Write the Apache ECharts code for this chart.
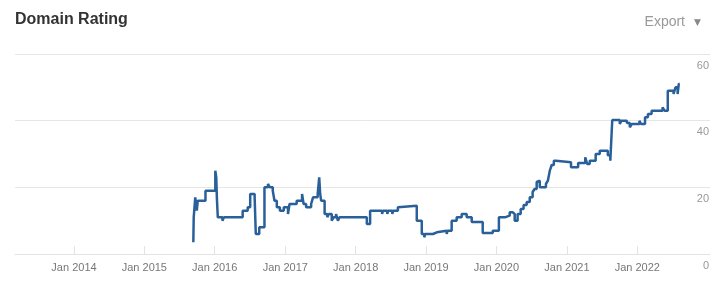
<!DOCTYPE html>
<html>
<head>
<meta charset="utf-8">
<script src="https://cdn.jsdelivr.net/npm/echarts@6/dist/echarts.min.js"></script>
<style>
html,body{margin:0;padding:0;background:#fff;}
#chart{width:726px;height:290px;}
</style>
</head>
<body>
<div id="chart"></div>
<script>
// Domain Rating history (step changes: date the value starts, value)
const dates = [
  '2015-09-12','2015-09-14','2015-09-22','2015-09-30','2015-10-05','2015-11-14',
  '2016-01-04','2016-01-09','2016-01-12','2016-01-17','2016-02-10','2016-02-18',
  '2016-05-25','2016-06-20','2016-07-03','2016-07-26','2016-08-01','2016-08-19',
  '2016-09-15','2016-10-03','2016-10-13','2016-10-28','2016-11-06','2016-11-18',
  '2016-12-04','2016-12-24','2017-01-15','2017-01-23','2017-03-01','2017-03-29',
  '2017-04-06','2017-04-19','2017-05-15','2017-05-25','2017-06-18','2017-06-26',
  '2017-07-01','2017-07-06','2017-07-24','2017-08-07','2017-08-15','2017-08-30',
  '2017-09-08','2017-09-21','2017-10-01','2017-10-09','2018-02-28','2018-03-17',
  '2018-05-18','2018-05-23','2018-06-14','2018-06-19','2018-07-10','2018-07-15',
  '2018-08-08','2018-08-18','2018-11-14','2018-12-10','2018-12-23','2018-12-28',
  '2019-02-06','2019-02-26','2019-04-18','2019-04-23','2019-05-14','2019-06-09',
  '2019-07-05','2019-07-31','2019-08-26','2019-10-22','2019-12-13','2020-01-14',
  '2020-02-14','2020-03-10','2020-03-25','2020-04-05','2020-04-20','2020-05-06',
  '2020-05-21','2020-06-06','2020-06-22','2020-07-07','2020-07-17','2020-07-28',
  '2020-08-03','2020-08-13','2020-09-14','2020-09-24','2020-10-04','2020-10-14',
  '2020-10-25','2020-11-05','2021-01-22','2021-02-28','2021-04-06','2021-04-16',
  '2021-04-29','2021-05-30','2021-06-20','2021-08-01','2021-08-14','2021-08-24',
  '2021-10-02','2021-10-10','2021-11-08','2021-11-23','2021-12-03','2022-01-12',
  '2022-01-20','2022-02-10','2022-02-25','2022-03-16','2022-05-12','2022-05-22',
  '2022-06-08','2022-07-08','2022-07-18','2022-07-29','2022-08-04','2022-08-09'
];
const values = [
  3.5,11,17,13,16,19,
  25,23,17,11,10,11,
  13,14,18,17,6,8,
  20,21,20,19,16,14,
  13,14,12,15,16,18,
  15,14,15,17,18,23,
  18,16,12,11,12,10,
  11,12,10,11,9,13,
  12,13,12,13,12,13,
  14,14.5,10,6,5,6,
  6.5,7,6,7,10,11,
  12,11,9.6,6.3,7,11,
  11.5,12.5,12,10,12,13.5,
  14.7,15.6,17,18.6,19.5,21.6,
  22,20,21,22,25,26.7,
  28,27.5,26,27.3,29,27,
  28,30,31,29.6,28,40.2,
  39,40,39.3,38,39,40,
  39,41,42,43,44,43,
  49,48,50,48,51,51
];
const tickYears = [2014,2015,2016,2017,2018,2019,2020,2021,2022];
const yTicks = [0,20,40,60];
const xMin = '2013-03-01';
const xMax = '2023-01-13';

function toTs(s) {
  const p = s.split('-').map(Number);
  return new Date(p[0], p[1] - 1, p[2]).getTime();
}
const tickValues = tickYears.map(y => new Date(y, 0, 1).getTime());
const seriesData = dates.map((d, i) => [toTs(d), values[i]]);

const chart = echarts.init(document.getElementById('chart'), null, {renderer: 'canvas'});
chart.setOption({
  animation: false,
  backgroundColor: '#ffffff',
  textStyle: {fontFamily: 'Liberation Sans, Arial, sans-serif'},
  title: [
    {text: 'Domain Rating', left: 15, top: 12, padding: 0,
     textStyle: {fontSize: 16, fontWeight: 'bold', color: '#333333', fontFamily: 'Liberation Sans'}},
    {text: 'Export', right: 41, top: 15, padding: 0,
     textStyle: {fontSize: 14, fontWeight: 'normal', color: '#999999', fontFamily: 'Liberation Sans'}},
    {text: '▼', right: 25, top: 18, padding: 0,
     textStyle: {fontSize: 9, fontWeight: 'normal', color: '#888888', fontFamily: 'DejaVu Sans'}}
  ],
  grid: {left: 15, right: 16, top: 54, bottom: 36, containLabel: false},
  xAxis: {
    type: 'value',
    min: toTs(xMin),
    max: toTs(xMax),
    axisLine: {show: true, lineStyle: {color: '#e3e3e3', width: 1}},
    axisTick: {show: true, inside: true, length: 8, customValues: tickValues,
               lineStyle: {color: '#e3e3e3'}},
    axisLabel: {
      customValues: tickValues,
      formatter: v => 'Jan ' + new Date(v).getFullYear(),
      color: '#777777', fontSize: 11, margin: 8, fontFamily: 'Liberation Sans'
    },
    splitLine: {show: false}
  },
  yAxis: {
    type: 'value',
    position: 'right',
    min: yTicks[0],
    max: yTicks[yTicks.length - 1],
    interval: 20,
    axisLine: {show: false},
    axisTick: {show: false},
    axisLabel: {inside: true, margin: 1, verticalAlign: 'top', padding: [6, 0, 0, 0],
                color: '#999999', fontSize: 11, fontFamily: 'Liberation Sans'},
    splitLine: {show: true, lineStyle: {color: '#e6e6e6', width: 1}}
  },
  series: [{
    type: 'line',
    step: 'end',
    data: seriesData,
    showSymbol: false,
    symbol: 'none',
    lineStyle: {color: '#2a6099', width: 2.5},
    itemStyle: {color: '#2a6099'}
  }]
});
</script>
</body>
</html>
